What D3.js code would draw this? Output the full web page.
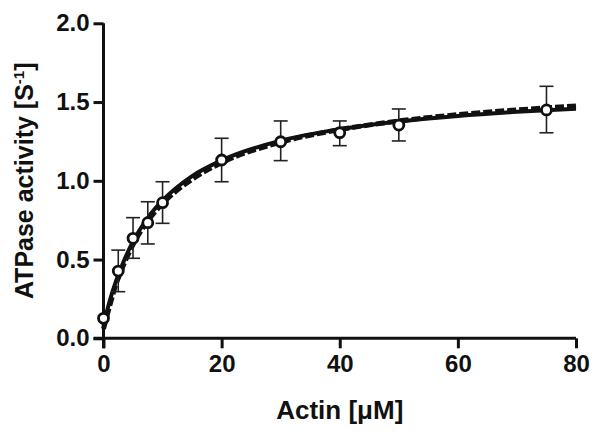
<!DOCTYPE html>
<html>
<head>
<meta charset="utf-8">
<script src="https://cdn.jsdelivr.net/npm/d3@7"></script>
<style>
  body { margin: 0; background: #fff; }
  text { font-family: "Liberation Sans", Arial, sans-serif; font-weight: bold; fill: #111; }
</style>
</head>
<body>
<div id="chart"></div>
<script>
// measured points (actin uM -> ATPase activity s^-1)
const actin = [0, 2.5, 5, 7.5, 10, 20, 30, 40, 50, 75];
const activity = [0.127, 0.427, 0.635, 0.734, 0.861, 1.132, 1.248, 1.305, 1.354, 1.45];
const errLow = [0.11, 0.296, 0.508, 0.599, 0.73, 0.994, 1.128, 1.223, 1.253, 1.305];
const errHigh = [0.14, 0.56, 0.766, 0.867, 0.994, 1.27, 1.38, 1.38, 1.456, 1.6];

// fitted curves
const fitX = [0, 1, 2, 3, 5, 7.5, 10, 15, 20, 30, 40, 50, 60, 70, 80];
const fitSolid = [0.08, 0.23, 0.35, 0.45, 0.615, 0.765, 0.875, 1.03, 1.13, 1.255, 1.328, 1.377, 1.412, 1.438, 1.458];
const fitDashed = [0.06, 0.2, 0.33, 0.43, 0.595, 0.745, 0.855, 1.01, 1.115, 1.245, 1.325, 1.38, 1.42, 1.45, 1.475];

const xTicks = [0, 20, 40, 60, 80];
const yTicks = [0, 0.5, 1.0, 1.5, 2.0];

const width = 602, height = 437;
const margin = {top: 23.3, right: 26, bottom: 98.7, left: 103.5};

const svg = d3.select("#chart")
    .append("svg")
    .attr("width", width)
    .attr("height", height);

const x = d3.scaleLinear()
    .domain([0, 80])
    .range([margin.left, width - margin.right]);

const y = d3.scaleLinear()
    .domain([0, 2])
    .range([height - margin.bottom, margin.top]);

// axes
const xAxis = svg.append("g")
    .attr("transform", `translate(0,${y(0)})`)
    .call(d3.axisBottom(x).tickValues(xTicks).tickSize(10).tickSizeOuter(0).tickPadding(7)
        .tickFormat(d3.format("d")));

const yAxis = svg.append("g")
    .attr("transform", `translate(${x(0)},0)`)
    .call(d3.axisLeft(y).tickValues(yTicks).tickSize(10).tickSizeOuter(0).tickPadding(4)
        .tickFormat(d3.format(".1f")));

[xAxis, yAxis].forEach((g) => {
    g.select(".domain").attr("stroke", "#111").attr("stroke-width", 3);
    g.selectAll(".tick line").attr("stroke", "#111").attr("stroke-width", 3);
    g.selectAll(".tick text")
        .attr("font-size", 24)
        .attr("font-family", "Liberation Sans, Arial, sans-serif")
        .attr("font-weight", "bold")
        .attr("fill", "#111");
});
// axis lines meet at the origin, ticks stick out past it
xAxis.select(".domain").attr("d", `M${x(0) - 10},0H${x(80)}`);
yAxis.select(".domain").attr("d", `M0,${y(0) + 10}V${y(2)}`);

// fit curves
const line = d3.line()
    .x((d) => x(d[0]))
    .y((d) => y(d[1]))
    .curve(d3.curveMonotoneX);

svg.append("path")
    .datum(fitX.map((v, i) => [v, fitDashed[i]]))
    .attr("fill", "none")
    .attr("stroke", "#111")
    .attr("stroke-width", 5)
    .attr("stroke-dasharray", "9,3")
    .attr("d", line);

svg.append("path")
    .datum(fitX.map((v, i) => [v, fitSolid[i]]))
    .attr("fill", "none")
    .attr("stroke", "#111")
    .attr("stroke-width", 4)
    .attr("d", line);

// error bars
const bars = svg.append("g")
    .attr("stroke", "#222")
    .attr("stroke-width", 1.6);

actin.forEach((a, i) => {
    if (i === 0) return;
    const cx = x(a);
    bars.append("line")
        .attr("x1", cx).attr("x2", cx)
        .attr("y1", y(errLow[i])).attr("y2", y(errHigh[i]));
    [errLow[i], errHigh[i]].forEach((v) => {
        bars.append("line")
            .attr("x1", cx - 7).attr("x2", cx + 7)
            .attr("y1", y(v)).attr("y2", y(v));
    });
});

// points
svg.append("g")
    .selectAll("circle")
    .data(actin)
    .join("circle")
    .attr("cx", (d) => x(d))
    .attr("cy", (d, i) => y(activity[i]))
    .attr("r", 5)
    .attr("fill", "#fff")
    .attr("stroke", "#111")
    .attr("stroke-width", 2.8);

// axis titles
svg.append("text")
    .attr("x", (x(0) + x(80)) / 2)
    .attr("y", 419)
    .attr("text-anchor", "middle")
    .attr("font-size", 26)
    .text("Actin [μM]");

const yTitle = svg.append("text")
    .attr("transform", `translate(33,${(y(0) + y(2)) / 2}) rotate(-90)`)
    .attr("text-anchor", "middle")
    .attr("font-size", 25);
yTitle.append("tspan").text("ATPase activity [S");
yTitle.append("tspan").attr("dy", -9).attr("font-size", 15).text("-1");
yTitle.append("tspan").attr("dy", 9).text("]");
</script>
</body>
</html>
